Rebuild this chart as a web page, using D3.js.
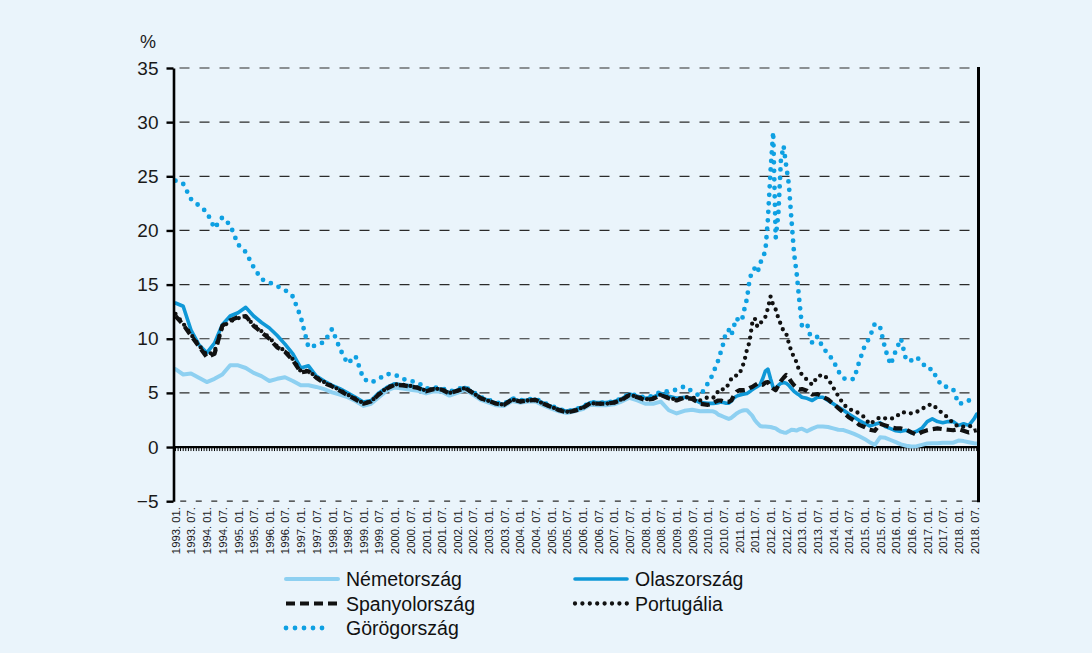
<!DOCTYPE html>
<html><head><meta charset="utf-8">
<script src="https://cdn.jsdelivr.net/npm/d3@7"></script>
<style>
html,body{margin:0;padding:0;background:#eaf4fb;}
svg{display:block;font-family:"Liberation Sans",Arial,Helvetica,sans-serif;}
</style></head><body>
<svg id="chart" width="1092" height="653"></svg>
<script>
const dates = [
"1993-01","1993-04","1993-07","1993-10","1994-01","1994-04","1994-07","1994-10",
"1995-01","1995-04","1995-07","1995-10","1996-01","1996-04","1996-07","1996-10",
"1997-01","1997-04","1997-07","1997-10","1998-01","1998-04","1998-07","1998-10",
"1999-01","1999-04","1999-07","1999-10","2000-01","2000-04","2000-07","2000-10",
"2001-01","2001-04","2001-07","2001-10","2002-01","2002-04","2002-07","2002-10",
"2003-01","2003-04","2003-07","2003-10","2004-01","2004-04","2004-07","2004-10",
"2005-01","2005-04","2005-07","2005-10","2006-01","2006-04","2006-07","2006-10",
"2007-01","2007-04","2007-07","2007-10","2008-01","2008-04","2008-07","2008-10",
"2009-01","2009-04","2009-07","2009-10",
"2010-01","2010-02","2010-03","2010-04","2010-05","2010-06","2010-07","2010-08","2010-09","2010-10","2010-11","2010-12",
"2011-01","2011-02","2011-03","2011-04","2011-05","2011-06","2011-07","2011-08","2011-09","2011-10","2011-11","2011-12",
"2012-01","2012-02","2012-03","2012-04","2012-05","2012-06","2012-07","2012-08","2012-09","2012-10","2012-11","2012-12",
"2013-01","2013-03","2013-05","2013-07","2013-09","2013-11",
"2014-01","2014-03","2014-05","2014-07","2014-09","2014-11",
"2015-01","2015-03","2015-05","2015-07","2015-09","2015-11",
"2016-01","2016-03","2016-05","2016-07","2016-09","2016-11",
"2017-01","2017-03","2017-05","2017-07","2017-09","2017-11",
"2018-01","2018-03","2018-05","2018-07","2018-08"
];

const germany = [
7.2,6.7,6.8,6.4,6.0,6.3,6.7,7.55,7.55,7.3,6.85,6.55,6.1,6.3,6.45,6.1,5.7,5.7,5.55,5.35,5.05,4.85,4.6,4.25,3.8,
4.0,4.6,5.2,5.5,5.4,5.3,5.2,4.95,5.15,5.1,4.75,5.0,5.3,4.85,4.35,4.1,3.85,3.8,4.25,4.1,4.2,4.2,3.85,3.55,3.3,3.15,3.3,3.5,3.9,3.85,3.85,3.95,4.2,4.55,4.3,4.0,4.0,4.2,3.4,3.1,3.35,3.45,3.3,
3.32,3.3,3.3,3.2,3.0,2.9,2.8,2.7,2.6,2.7,2.9,3.1,3.25,3.35,3.4,3.4,3.15,2.9,2.5,2.2,1.95,1.9,1.9,1.88,1.85,1.78,1.72,1.55,1.42,1.35,1.32,1.45,1.6,1.58,1.52,1.65,
1.7,1.45,1.7,1.9,1.9,1.85,1.72,1.6,1.57,1.4,1.22,1.0,0.75,0.45,0.2,0.9,0.85,0.65,0.45,0.25,0.12,0.05,0.08,0.2,0.33,0.34,0.36,0.4,0.4,0.4,0.6,0.55,0.45,0.35,0.32
];
const italy = [
13.3,13.0,10.8,9.45,8.7,9.6,11.3,12.1,12.4,12.9,12.1,11.5,11.0,10.3,9.5,8.6,7.3,7.5,6.55,6.1,5.7,5.4,5.0,4.6,4.15,
4.3,5.0,5.5,5.85,5.75,5.65,5.5,5.2,5.4,5.35,5.0,5.25,5.5,5.05,4.55,4.3,4.05,3.95,4.45,4.25,4.35,4.4,4.05,3.75,3.5,3.3,3.45,3.7,4.1,4.1,4.1,4.2,4.45,4.9,4.7,4.5,4.6,4.95,4.7,4.5,4.6,4.5,4.1,
4.03,4.03,4.03,4.05,4.1,4.15,4.12,4.05,4.05,4.25,4.55,4.7,4.78,4.85,4.9,4.95,5.1,5.3,5.45,5.6,5.75,6.3,7.0,7.2,6.3,5.5,5.4,5.7,5.9,5.95,5.9,5.7,5.4,5.15,4.95,4.8,
4.6,4.5,4.3,4.6,4.6,4.3,4.0,3.7,3.4,3.05,2.75,2.45,2.2,1.95,2.1,2.25,1.9,1.7,1.5,1.45,1.55,1.3,1.45,1.75,2.35,2.6,2.35,2.25,2.35,2.35,2.0,2.15,2.0,2.6,3.05
];
const spain = [
12.1,11.3,10.3,9.3,8.3,8.6,11.2,11.7,12.0,12.1,11.2,10.6,10.0,9.2,8.8,8.0,6.9,7.0,6.4,5.9,5.6,5.2,4.8,4.4,4.0,
4.2,4.85,5.4,5.75,5.7,5.6,5.45,5.15,5.35,5.3,4.95,5.2,5.45,5.0,4.5,4.25,4.0,3.9,4.4,4.2,4.3,4.35,4.0,3.7,3.4,3.2,3.35,3.6,4.05,4.0,4.0,4.1,4.35,4.8,4.6,4.35,4.45,4.8,4.5,4.3,4.55,4.45,4.0,
3.9,3.95,4.05,4.2,4.3,4.3,4.2,4.18,4.18,4.3,4.8,5.1,5.25,5.26,5.26,5.3,5.45,5.55,5.7,5.85,5.8,5.75,5.95,6.0,5.6,5.4,5.25,5.7,6.1,6.4,6.65,6.4,6.0,5.7,5.45,5.3,
5.35,5.2,4.85,4.9,4.65,4.4,4.0,3.6,3.2,2.75,2.45,2.05,1.85,1.6,1.5,2.15,2.0,1.82,1.72,1.72,1.6,1.35,1.12,1.4,1.55,1.65,1.72,1.65,1.6,1.55,1.65,1.5,1.35,1.5,1.55
];
const portugal = [
12.3,11.4,10.4,9.4,8.5,8.8,11.1,11.6,11.9,12.0,11.3,10.7,10.1,9.3,8.9,8.1,7.0,7.05,6.45,6.0,5.65,5.25,4.85,4.45,4.05,
4.2,4.9,5.45,5.8,5.75,5.65,5.5,5.2,5.4,5.35,5.0,5.2,5.45,5.0,4.5,4.25,4.0,3.9,4.4,4.2,4.3,4.35,4.0,3.7,3.45,3.25,3.4,3.65,4.05,4.0,4.0,4.1,4.4,4.8,4.65,4.4,4.5,4.85,4.5,4.4,4.6,4.6,4.3,
4.6,4.6,4.55,4.7,5.2,5.4,5.3,5.4,5.9,6.3,6.6,6.6,6.7,7.3,7.9,9.0,9.7,11.4,11.9,11.1,11.4,11.7,12.0,12.8,13.9,13.1,12.7,11.9,11.3,10.7,10.5,9.6,8.8,8.3,7.8,7.0,
6.7,6.2,5.75,6.5,6.7,6.3,5.5,4.7,3.95,3.5,3.36,3.1,2.75,2.1,2.45,2.75,2.65,2.6,2.75,3.2,3.2,3.1,3.25,3.5,3.85,3.95,3.5,3.1,2.7,2.2,1.88,1.88,1.92,1.95,1.95
];
const greece = [
24.6,24.3,22.9,22.3,21.7,20.2,21.2,20.5,18.7,18.0,16.6,15.5,15.2,14.85,14.5,13.9,12.0,9.2,9.4,9.7,10.9,9.1,7.7,8.4,6.3,
5.95,6.3,6.75,6.7,6.3,6.1,5.95,5.4,5.5,5.45,5.1,5.35,5.55,5.1,4.6,4.35,4.1,4.0,4.5,4.3,4.4,4.45,4.1,3.8,3.5,3.3,3.45,3.7,4.15,4.1,4.1,4.2,4.5,4.9,4.75,4.55,4.75,5.1,5.15,5.3,5.6,5.15,4.7,
5.9,6.3,6.8,7.4,8.0,8.8,9.6,10.7,10.8,10.3,11.2,11.9,11.6,11.7,12.7,13.7,15.4,16.3,16.5,16.1,16.9,17.6,18.0,21.0,25.5,29.1,19.3,21.5,26.5,27.8,26.0,24.3,21.0,17.9,16.0,13.6,
11.2,11.4,9.6,10.2,9.2,8.6,8.0,7.0,6.35,6.2,6.3,7.9,9.3,10.1,11.4,11.1,9.0,7.6,8.9,10.0,8.0,8.0,8.3,7.8,7.2,7.2,6.2,5.6,5.55,5.3,4.0,4.05,4.3,4.2,4.15
];

const yTicks = [-5, 0, 5, 10, 15, 20, 25, 30, 35];
const yUnit = "%";
const seriesNames = ["Németország", "Olaszország", "Spanyolország", "Portugália", "Görögország"];

const parse = d3.timeParse("%Y-%m");
const svg = d3.select("#chart");

const left = 173.5, right = 978.5;
const x = d3.scaleTime()
  .domain([new Date(1992, 11, 9), new Date(2018, 7, 22)])
  .range([left, right]);
const y = d3.scaleLinear().domain([-5, 35]).range([501.2, 68]);

// gridlines
const grid = svg.append("g");
grid.selectAll("line.g").data(yTicks.filter(d => d > 0)).enter().append("line")
  .attr("x1", left + 2).attr("x2", right - 1)
  .attr("y1", d => y(d)).attr("y2", d => y(d))
  .attr("stroke", "#2b2b2b").attr("stroke-width", 1.2)
  .attr("stroke-dasharray", "10 10").attr("stroke-dashoffset", -4);

// label dates
const labelDates = d3.timeMonth.every(6).range(new Date(1993, 0, 1), new Date(2018, 7, 1));
const labelStep = x(labelDates[1]) - x(labelDates[0]);
// -5 gridline dashes between labels
grid.append("line")
  .attr("x1", left + 2).attr("x2", right - 1)
  .attr("y1", y(-5)).attr("y2", y(-5))
  .attr("stroke", "#2b2b2b").attr("stroke-width", 1.2)
  .attr("stroke-dasharray", `6 ${labelStep - 6}`)
  .attr("stroke-dashoffset", -(x(labelDates[0]) + labelStep / 2 - 3 - (left + 2)));

// zero line with monthly ticks
const months = d3.timeMonth.range(new Date(1993, 0, 1), new Date(2018, 8, 1));
svg.append("g").selectAll("line").data(months).enter().append("line")
  .attr("x1", d => x(d)).attr("x2", d => x(d))
  .attr("y1", y(0)).attr("y2", y(0) + 4)
  .attr("stroke", "#000").attr("stroke-width", 1);
svg.append("line").attr("x1", left).attr("x2", right)
  .attr("y1", y(0)).attr("y2", y(0))
  .attr("stroke", "#000").attr("stroke-width", 2.2);

// series
const rows = dates.map(parse);
const mk = vals => rows.map((d, i) => ({ date: d, v: vals[i] }));
const line = d3.line().x(d => x(d.date)).y(d => y(d.v));

const styles = {
  de: { stroke: "#8ed0f1", width: 4, dash: null, cap: "round" },
  it: { stroke: "#0f98d7", width: 3.6, dash: null, cap: "round" },
  gr: { stroke: "#0ea0e2", width: 4.8, dash: "0 8.5", cap: "round" },
  pt: { stroke: "#111", width: 4.3, dash: "0 7", cap: "round" },
  es: { stroke: "#111", width: 4.2, dash: "9 5", cap: "butt" }
};
const series = [
  { key: "de", data: germany },
  { key: "gr", data: greece },
  { key: "it", data: italy },
  { key: "pt", data: portugal },
  { key: "es", data: spain }
];
const plot = svg.append("g");
series.forEach(s => {
  const st = styles[s.key];
  plot.append("path").datum(mk(s.data))
    .attr("d", line)
    .attr("fill", "none")
    .attr("stroke", st.stroke)
    .attr("stroke-width", st.width)
    .attr("stroke-linejoin", "round")
    .attr("stroke-linecap", st.cap)
    .attr("stroke-dasharray", st.dash);
});

// y axis
const yAxis = svg.append("g").attr("transform", `translate(${left},0)`)
  .call(d3.axisLeft(y).tickValues(yTicks).tickSize(7).tickSizeOuter(0).tickPadding(8)
    .tickFormat(d => d < 0 ? "\u2212" + Math.abs(d) : d));
yAxis.select(".domain").attr("stroke", "#000").attr("stroke-width", 2.6);
yAxis.selectAll(".tick line").attr("stroke", "#000").attr("stroke-width", 2.4);
yAxis.selectAll(".tick text").attr("font-size", 19).attr("fill", "#1a1a1a")
  .attr("font-family", "'Liberation Sans', Arial, sans-serif");

// right border
svg.append("line").attr("x1", right).attr("x2", right)
  .attr("y1", y(35) - 1).attr("y2", y(-5) + 1)
  .attr("stroke", "#000").attr("stroke-width", 3);

// x labels
const xAxis = svg.append("g").attr("transform", `translate(0,503)`)
  .call(d3.axisBottom(x).tickValues(labelDates).tickSize(0)
    .tickFormat(d3.timeFormat("%Y. %m.")));
xAxis.select(".domain").remove();
xAxis.selectAll(".tick text")
  .attr("transform", "rotate(-90)")
  .attr("x", -4).attr("y", 0).attr("dy", "0.35em")
  .style("text-anchor", "end")
  .attr("font-size", 11.3).attr("fill", "#1a1a1a")
  .attr("font-family", "'Liberation Sans', Arial, sans-serif");

// unit
svg.append("text").attr("x", 140).attr("y", 48).text(yUnit)
  .attr("font-size", 18).attr("fill", "#1a1a1a");

// legend
const legendItems = [
  { key: "de", name: seriesNames[0], lx: 286, ly: 579, len: 52 },
  { key: "it", name: seriesNames[1], lx: 575, ly: 579, len: 52 },
  { key: "es", name: seriesNames[2], lx: 286, ly: 603.5, len: 52 },
  { key: "pt", name: seriesNames[3], lx: 575, ly: 603.5, len: 52 },
  { key: "gr", name: seriesNames[4], lx: 286, ly: 628, len: 45 }
];
const lg = svg.append("g");
legendItems.forEach(it => {
  const st = styles[it.key];
  lg.append("line").attr("x1", it.lx).attr("x2", it.lx + it.len)
    .attr("y1", it.ly).attr("y2", it.ly)
    .attr("stroke", st.stroke).attr("stroke-width", st.width)
    .attr("stroke-linecap", st.cap)
    .attr("stroke-dasharray", it.key === "gr" ? "0 9" : (it.key === "pt" ? "0 7.4" : st.dash));
  lg.append("text").attr("x", it.key === "gr" ? 346 : it.lx + 60).attr("y", it.ly + 7)
    .text(it.name).attr("font-size", 19.5).attr("fill", "#111");
});
</script>
</body></html>
